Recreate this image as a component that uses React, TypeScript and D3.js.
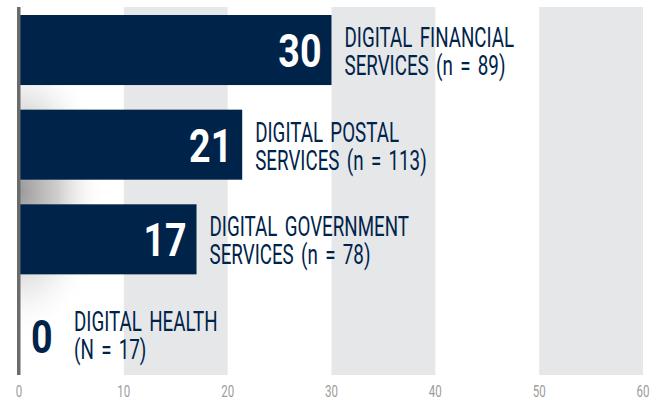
import React from "react";
import * as d3 from "d3";

const categories = ["financial", "postal", "government", "health"];
const values = [30, 21.4, 17, 0];
const labelLine1 = ["DIGITAL FINANCIAL", "DIGITAL POSTAL", "DIGITAL GOVERNMENT", "DIGITAL HEALTH"];
const labelLine2 = ["SERVICES (n = 89)", "SERVICES (n = 113)", "SERVICES (n = 78)", "(N = 17)"];
const xTicks = [0, 10, 20, 30, 40, 50, 60];
const bandStarts = [10, 30, 50];

const W = 660;
const H = 400;
const NAVY = "#00234a";
const FONT = "Roboto, 'Noto Sans', sans-serif";

export default function App() {
  const x = d3.scaleLinear().domain([0, 60]).range([20, 643]);
  const y = d3
    .scaleBand<string>()
    .domain(categories)
    .range([15, 369])
    .paddingInner(0.26)
    .paddingOuter(0);
  const plotTop = 7;
  const plotBottom = 375;
  const bw = y.bandwidth();
  const labelSX = 0.67;
  const numSX = 0.8;
  const tickSX = 0.72;

  return (
    <svg
      width={W}
      height={H}
      style={{ position: "absolute", left: 0, top: 0, background: "#fff" }}
    >
      <defs>
        <radialGradient id="shadow">
          <stop offset="0%" stopColor="#9a9a9a" stopOpacity={1} />
          <stop offset="45%" stopColor="#c2c2c2" stopOpacity={0.8} />
          <stop offset="100%" stopColor="#ffffff" stopOpacity={0} />
        </radialGradient>
        <clipPath id="plotClip">
          <rect x={x(0)} y={plotTop} width={x(60) - x(0)} height={plotBottom - plotTop} />
        </clipPath>
      </defs>

      {bandStarts.map((b) => (
        <rect
          key={b}
          x={x(b)}
          y={plotTop}
          width={x(b + 10) - x(b)}
          height={plotBottom - plotTop}
          fill="#e6e7e9"
        />
      ))}

      <g clipPath="url(#plotClip)">
        <ellipse cx={x(0)} cy={191} rx={85} ry={150} fill="url(#shadow)" />
      </g>

      {categories.map((c, i) => {
        const v = values[i];
        const y0 = y(c)!;
        const cy = y0 + bw / 2;
        const end = x(v);
        const hasBar = v > 0;
        const numStr = String(Math.round(v));
        let labelX;
        let numEl;
        if (hasBar) {
          labelX = end + 13;
          numEl = (
            <g transform={`translate(${end - 10},${cy + 17}) scale(${numSX},1)`}>
              <text
                textAnchor="end"
                fontFamily={FONT}
                fontWeight={700}
                fontSize={47}
                fill="#ffffff"
              >
                {numStr}
              </text>
            </g>
          );
        } else {
          labelX = x(0) + 54;
          numEl = (
            <g transform={`translate(${x(0) + 11},${cy + 19}) scale(${numSX},1)`}>
              <text
                textAnchor="start"
                fontFamily={FONT}
                fontWeight={700}
                fontSize={47}
                fill={NAVY}
              >
                {numStr}
              </text>
            </g>
          );
        }
        return (
          <g key={c}>
            {hasBar && (
              <rect x={x(0)} y={y0} width={end - x(0)} height={bw} fill={NAVY} />
            )}
            {numEl}
            <g transform={`translate(${labelX},${cy - 3}) scale(${labelSX},1)`}>
              <text fontFamily={FONT} fontSize={28} fill={NAVY} wordSpacing={4}>
                {labelLine1[i]}
              </text>
            </g>
            <g transform={`translate(${labelX},${cy + 25}) scale(${labelSX},1)`}>
              <text fontFamily={FONT} fontSize={28} fill={NAVY} wordSpacing={4}>
                {labelLine2[i]}
              </text>
            </g>
          </g>
        );
      })}

      <rect x={x(0) - 3} y={plotTop} width={3.5} height={plotBottom - plotTop} fill="#6b6b6b" />

      {xTicks.map((t) => (
        <g key={t} transform={`translate(${x(t) - (t === 0 ? 1 : 0)},397) scale(${tickSX},1)`}>
          <text
            textAnchor="middle"
            fontFamily={FONT}
            fontWeight={400}
            fontSize={16}
            fill="#9c9c9c"
          >
            {t}
          </text>
        </g>
      ))}
    </svg>
  );
}
